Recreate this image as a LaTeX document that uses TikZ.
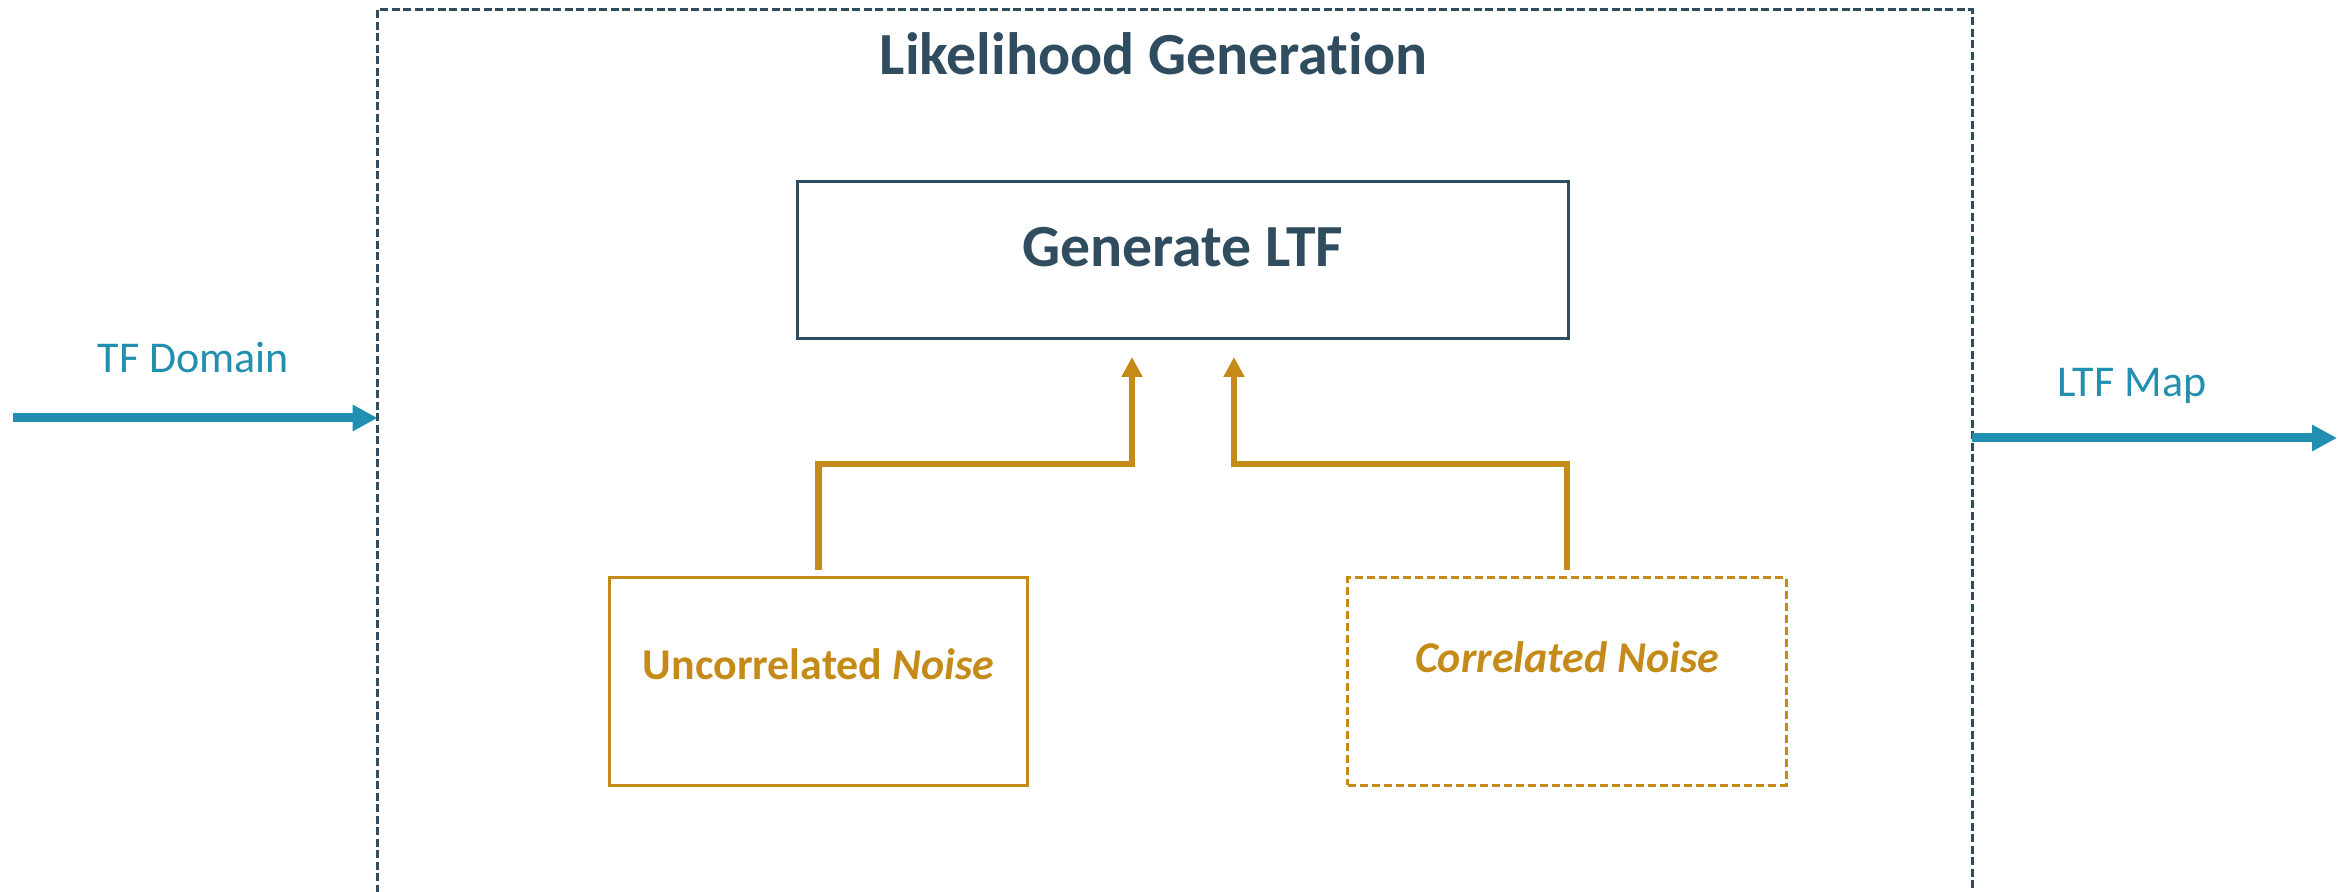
\documentclass[tikz,border=0pt]{standalone}
\usepackage{fontspec}
\setmainfont{Carlito}[RawFeature=-liga]
\usetikzlibrary{arrows.meta}

\definecolor{slate}{HTML}{2F4D5E}
\definecolor{flowblue}{HTML}{218FAF}
\definecolor{noisegold}{HTML}{C48B18}

\tikzset{
  framebox/.style={draw=slate, line width=0.03cm, dash pattern=on 0.08cm off 0.035cm,
    minimum width=15.94cm, minimum height=9.4cm, outer sep=0pt},
  blockbox/.style={draw=slate, line width=0.03cm, minimum width=7.7cm, minimum height=1.56cm,
    text=slate, font=\fontsize{17}{20}\selectfont\bfseries,
    text height=0.39cm, text depth=0.26cm, outer sep=0pt},
  noisebox/.style={draw=noisegold, line width=0.03cm, minimum height=2.07cm,
    text=noisegold, font=\fontsize{12.5}{15}\selectfont\bfseries,
    text height=0.28cm, outer sep=0pt},
  flowlabel/.style={text=flowblue, font=\fontsize{12.5}{15}\selectfont, anchor=base},
  flowarrow/.style={draw=flowblue, line width=0.09cm, -{Triangle[length=0.25cm,width=0.25cm]}},
  noisearrow/.style={draw=noisegold, line width=0.065cm, shorten <=0.08cm,
    -{Triangle[length=0.2cm,width=0.2cm]}}
}

\begin{document}
\begin{tikzpicture}[x=0.01cm, y=-0.01cm]
    \useasboundingbox (0,0) rectangle (2338,892);

    % Marco de generacion
    \node (frame) [framebox] at (1175,480) {};
    \node (title) at (1153.5,75) [anchor=base, text=slate,
      font=\fontsize{17}{20}\selectfont\bfseries] {Likelihood Generation};

    % Bloques
    \node (gen) [blockbox] at (1183,260) {Generate LTF};
    \node (unc) [noisebox, minimum width=4.17cm, text depth=0.31cm] at (818.5,681.5)
      {Uncorrelated \textit{Noise}};
    \node (cor) [noisebox, minimum width=4.38cm, text depth=0.45cm,
      dash pattern=on 0.08cm off 0.04cm] at (1567,681.5) {\textit{Correlated Noise}};

    % Entrada y salida
    \coordinate (tfin) at (13,418);
    \coordinate (ltfout) at (2337,438);
    \node (tflabel) [flowlabel] at (193.5,373) {TF Domain};
    \node (ltflabel) [flowlabel] at (2132,397) {LTF Map};
    \draw[flowarrow] (tfin) -- (tfin -| frame.west);
    \draw[flowarrow] (ltfout -| frame.east) -- (ltfout);

    % Flechas de ruido
    \coordinate (bendL) at (1132,464);
    \coordinate (tipL) at (1132,357);
    \coordinate (bendR) at (1234,464);
    \coordinate (tipR) at (1234,357);
    \draw[noisearrow] (unc.north) |- (bendL) -- (tipL);
    \draw[noisearrow] (cor.north) |- (bendR) -- (tipR);
\end{tikzpicture}
\end{document}
